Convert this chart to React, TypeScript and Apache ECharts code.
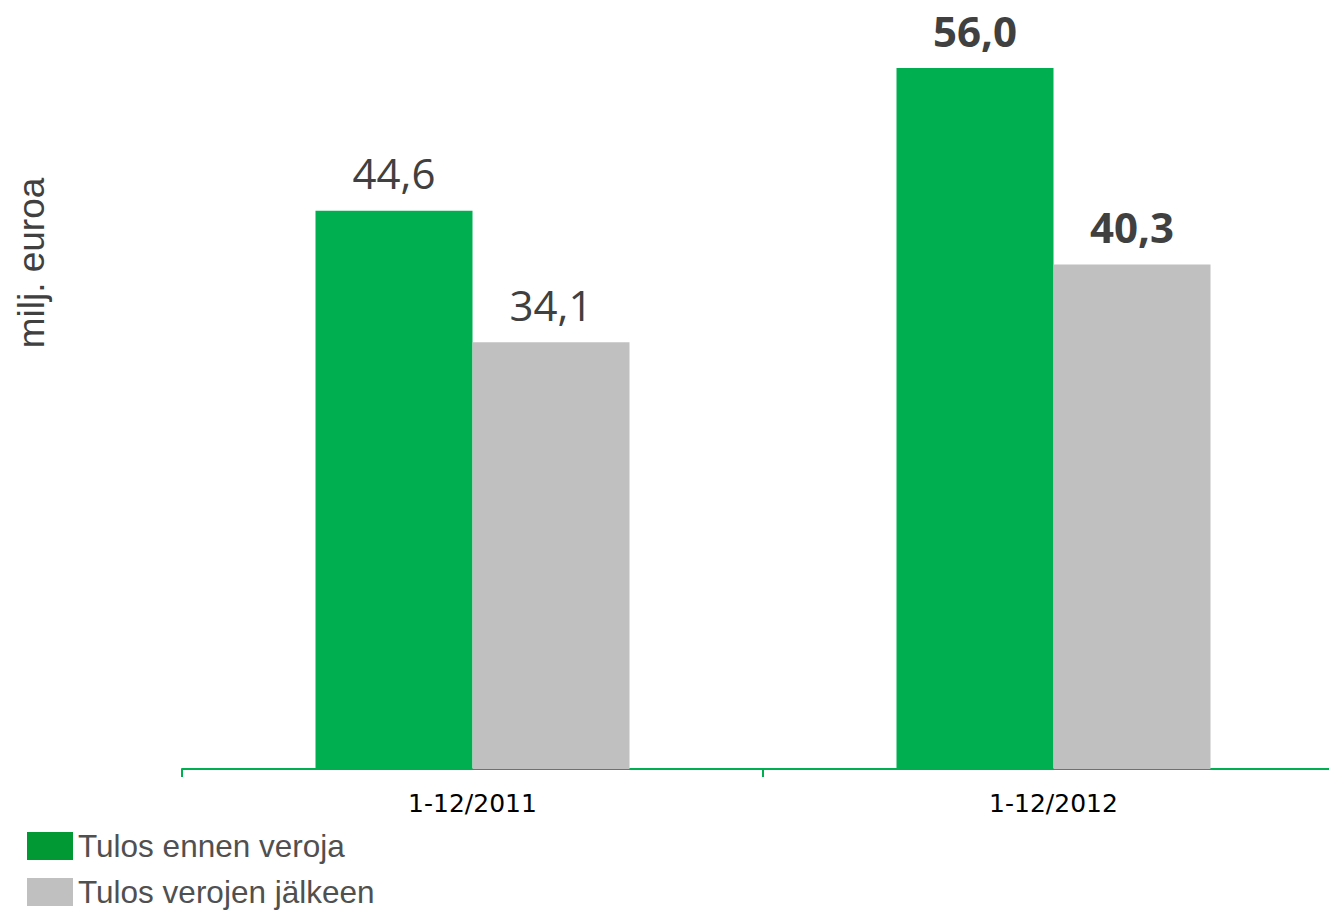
import React, { useEffect, useRef } from "react";
import * as echarts from "echarts";

const categories = ["1-12/2011", "1-12/2012"];
const seriesNames = ["Tulos ennen veroja", "Tulos verojen jälkeen"];
const beforeTax = [44.6, 56.0];
const afterTax = [34.1, 40.3];
const boldLabel = [false, true];
const yAxisTitle = "milj. euroa";

const fmt = (v: number) => v.toFixed(1).replace(".", ",");

export default function App() {
  const ref = useRef<HTMLDivElement>(null);
  useEffect(() => {
    const chart = echarts.init(ref.current!, null, { renderer: "svg" });
    const mkData = (vals: number[]) =>
      vals.map((v, i) => ({
        value: v,
        label: {
          fontWeight: boldLabel[i] ? "bold" : "normal",
        },
      }));
    const labelCfg = {
      show: true,
      position: "top",
      distance: 17,
      fontFamily: "Open Sans",
      fontSize: 42,
      color: "#404040",
      formatter: (p: any) => fmt(p.value),
    };
    chart.setOption({
      animation: false,
      backgroundColor: "#ffffff",
      grid: { left: 182, right: 0, top: 18, bottom: 143, containLabel: false },
      xAxis: {
        type: "category",
        data: categories,
        axisLine: { show: true, lineStyle: { color: "#00B050", width: 2 } },
        axisTick: { show: true, length: 8, lineStyle: { color: "#00B050", width: 2 } },
        axisLabel: {
          fontFamily: "DejaVu Sans",
          fontSize: 25,
          color: "#000000",
          margin: 22,
        },
      },
      yAxis: {
        type: "value",
        min: 0,
        max: 60,
        show: false,
        splitLine: { show: false },
      },
      legend: {
        orient: "vertical",
        left: 27,
        top: 830,
        height: 200,
        padding: 0,
        itemWidth: 46,
        itemHeight: 28,
        itemGap: 14,
        icon: "rect",
        textStyle: {
          fontFamily: "Liberation Sans",
          fontSize: 31.5,
          lineHeight: 28,
          color: "#505050",
        },
        data: [
          { name: seriesNames[0], itemStyle: { color: "#009933" } },
          { name: seriesNames[1], itemStyle: { color: "#C0C0C0" } },
        ],
      },
      graphic: [
        {
          type: "text",
          x: 31,
          y: 263,
          rotation: Math.PI / 2,
          style: {
            text: yAxisTitle,
            fontFamily: "Liberation Sans",
            fontSize: 37,
            fill: "#404040",
            align: "center",
            verticalAlign: "middle",
          },
        },
      ],
      series: [
        {
          name: seriesNames[0],
          type: "bar",
          barWidth: 157,
          barGap: "0%",
          itemStyle: { color: "#00B050" },
          label: labelCfg,
          data: mkData(beforeTax),
        },
        {
          name: seriesNames[1],
          type: "bar",
          barWidth: 157,
          barGap: "0%",
          itemStyle: { color: "#C0C0C0" },
          label: labelCfg,
          data: mkData(afterTax),
        },
      ],
    });
    return () => chart.dispose();
  }, []);
  return (
    <div
      style={{ position: "absolute", left: 0, top: 0, width: 1329, height: 912, overflow: "hidden" }}
    >
      <div
        ref={ref}
        style={{ position: "absolute", left: 0, top: 0, width: 1344, height: 912 }}
      />
    </div>
  );
}
